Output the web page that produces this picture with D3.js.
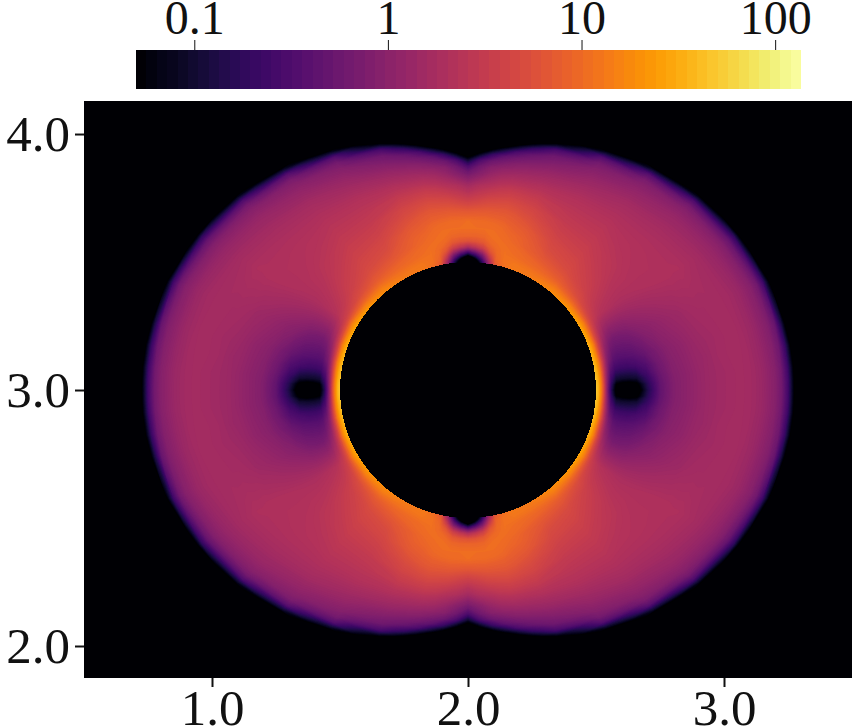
<!DOCTYPE html>
<html>
<head>
<meta charset="utf-8">
<script src="https://d3js.org/d3.v7.min.js"></script>
<style>
html, body { margin: 0; padding: 0; background: #fff; }
svg { display: block; }
text { font-family: "Liberation Serif", serif; fill: #111; }
</style>
</head>
<body>
<script>
//tick labels
var xTicks = [1, 2, 3];
var yTicks = [2, 3, 4];
var barTicks = [0.1, 1, 10, 100];

//the obstacle in the middle
var holeX = [2];
var holeY = [3];
var holeR = [0.5];

//field in one quadrant, polar round the hole (mirrored below)
var radii = [0.49, 0.50, 0.51, 0.52, 0.53, 0.54, 0.55, 0.56, 0.58, 0.60, 0.63, 0.66, 0.70, 0.75, 0.80,
	0.85, 0.875, 0.90, 0.925, 0.95, 0.975, 1.00, 1.025, 1.05, 1.075,
	1.10, 1.125, 1.15, 1.175, 1.20, 1.225, 1.25, 1.275, 1.30, 1.36];
var angles = [0, 2, 4, 8, 12, 20, 30, 40, 50, 60, 70, 75, 78, 81, 84, 87, 90];
var values = [
	[60, 50, 35, 15, 5, 1.3, .4, .15, .04, .03, .02, .03, .13, .45, .8,
		1, 1.1, 1.2, 1.3, 1.4, 1.45, 1.5, 1.55, 1.6, 1.6, 1.55, 1.45, 1.3, 1.1, .9, .62, .25, .05, .015, .01],
	[60, 50, 35, 15, 5, 1.4, .45, .18, .05, .04, .035, .045, .15, .46, .8,
		1, 1.1, 1.2, 1.3, 1.4, 1.45, 1.5, 1.55, 1.6, 1.6, 1.55, 1.45, 1.3, 1.1, .9, .62, .25, .05, .015, .01],
	[58, 48, 33, 15, 5, 1.5, .55, .24, .1, .09, .09, .1, .2, .5, .82,
		1, 1.1, 1.2, 1.3, 1.4, 1.45, 1.5, 1.55, 1.6, 1.6, 1.55, 1.45, 1.3, 1.1, .9, .62, .24, .05, .015, .01],
	[52, 44, 30, 15, 5.5, 2, .85, .42, .24, .22, .22, .25, .33, .6, .88,
		1.05, 1.15, 1.25, 1.3, 1.4, 1.5, 1.55, 1.6, 1.6, 1.6, 1.55, 1.4, 1.25, 1.05, .85, .58, .2, .04, .012, .01],
	[45, 40, 28, 15, 6, 2.6, 1.2, .7, .4, .36, .37, .4, .5, .72, .95,
		1.1, 1.2, 1.3, 1.4, 1.45, 1.5, 1.55, 1.6, 1.65, 1.6, 1.5, 1.4, 1.2, 1, .8, .5, .13, .025, .01, .01],
	[38, 34, 25, 15, 7, 3.6, 2.2, 1.4, .85, .7, .7, .75, .9, 1.05, 1.2,
		1.35, 1.4, 1.5, 1.55, 1.6, 1.6, 1.65, 1.65, 1.6, 1.55, 1.45, 1.3, 1.1, .9, .62, .25, .05, .012, .01, .01],
	[32, 28, 22, 15, 9, 5.5, 4, 3.2, 2.5, 2.2, 2, 1.9, 1.85, 1.9, 1.95,
		2, 2, 2, 1.95, 1.95, 1.85, 1.75, 1.65, 1.5, 1.35, 1.2, 1.02, .78, .48, .18, .03, .01, .01, .01, .01],
	[24, 22, 18, 14, 10, 7.5, 6, 5, 4.2, 3.6, 3.2, 2.9, 2.6, 2.4, 2.2,
		2.1, 2.05, 2, 1.9, 1.8, 1.7, 1.55, 1.4, 1.28, 1.1, .9, .66, .32, .07, .012, .01, .01, .01, .01, .01],
	[20, 18, 16, 14, 11.5, 9.5, 8, 7, 5.8, 5, 4.4, 4, 3.5, 3, 2.6,
		2.3, 2.1, 1.95, 1.8, 1.65, 1.45, 1.25, 1.1, .9, .7, .36, .08, .012, .01, .01, .01, .01, .01, .01, .01],
	[15, 14, 13, 12, 11, 10, 9, 8.5, 7, 6, 5, 4.5, 3.8, 3.1, 2.6,
		2.2, 1.95, 1.7, 1.45, 1.25, 1.05, .85, .65, .34, .07, .012, .01, .01, .01, .01, .01, .01, .01, .01, .01],
	[13, 13, 13, 12.5, 12, 11, 10.5, 10, 9.5, 8.5, 8, 7, 5.5, 4.2, 3,
		2, 1.6, 1.3, 1, .75, .55, .27, .05, .012, .01, .01, .01, .01, .01, .01, .01, .01, .01, .01, .01],
	[10, 10, 10.5, 11, 11, 11, 11, 11, 10.5, 10, 9, 8, 6.5, 4.6, 3,
		1.8, 1.4, 1.05, .75, .5, .2, .04, .012, .01, .01, .01, .01, .01, .01, .01, .01, .01, .01, .01, .01],
	[6, 6.5, 7.5, 8.5, 9, 9.5, 10, 10, 10.5, 10.5, 10, 9, 7, 4.8, 3,
		1.7, 1.25, .9, .6, .3, .065, .012, .01, .01, .01, .01, .01, .01, .01, .01, .01, .01, .01, .01, .01],
	[.9, 1.1, 1.6, 2.4, 3.5, 5, 6.5, 7.5, 9.5, 10.5, 10.5, 9.5, 7, 4.5, 2.7,
		1.5, 1.1, .72, .42, .11, .02, .01, .01, .01, .01, .01, .01, .01, .01, .01, .01, .01, .01, .01, .01],
	[.08, .12, .22, .4, .7, 1.4, 2.5, 4, 7, 9, 10.5, 10, 7, 4.2, 2.3,
		1.2, .9, .55, .2, .04, .012, .01, .01, .01, .01, .01, .01, .01, .01, .01, .01, .01, .01, .01, .01],
	[.012, .02, .04, .1, .25, .6, 1.4, 2.8, 6, 8.5, 10.5, 10, 6.8, 3.6, 2,
		.85, .6, .3, .065, .015, .01, .01, .01, .01, .01, .01, .01, .01, .01, .01, .01, .01, .01, .01, .01],
	[.01, .01, .015, .03, .1, .3, .85, 2, 5.5, 8.5, 10.5, 10.5, 6.5, 3.2, 1.6,
		.6, .3, .09, .025, .012, .01, .01, .01, .01, .01, .01, .01, .01, .01, .01, .01, .01, .01, .01, .01]
];

//Width and height
var width = 854;
var height = 728;
var plot = {left: 84, right: 852, top: 101, bottom: 678};
var bar = {left: 136, right: 801, top: 50, bottom: 89};
var barMin = 0.05;
var barMax = 136;

var svg = d3.select("body").append("svg")
	.attr("width", width)
	.attr("height", height);

var xScale = d3.scaleLinear().domain([0.5, 3.5]).range([plot.left, plot.right]);
var yScale = d3.scaleLinear().domain([1.875, 4.129]).range([plot.bottom, plot.top]);
var barScale = d3.scaleLog().domain([barMin, barMax]).range([bar.left, bar.right]);
var color = d3.scaleSequentialLog(d3.interpolateInferno).domain([barMin, barMax]);

//mirror the quadrant all the way round, with a bit of overlap so no seam shows at 0
var fullAngles = [];
var fullValues = [];
function addColumn(angle, i) {
	fullAngles.push(angle);
	fullValues.push(values[i]);
}
var last = angles.length - 1;
angles.forEach(function(a, i) { addColumn(a, i); });
angles.forEach(function(a, i) { if (i < last) addColumn(180 - angles[last - 1 - i], last - 1 - i); });
angles.forEach(function(a, i) { if (i > 0) addColumn(180 + a, i); });
angles.forEach(function(a, i) { if (i < last) addColumn(360 - angles[last - 1 - i], last - 1 - i); });
angles.forEach(function(a, i) { if (i > 0 && a <= 12) addColumn(360 + a, i); });

var nx = fullAngles.length;
var ny = radii.length;
var grid = new Float64Array(nx * ny);
for (var j = 0; j < ny; ++j) {
	for (var i = 0; i < nx; ++i) {
		grid[j * nx + i] = Math.log10(fullValues[i][j]);
	}
}

var angleOf = d3.scaleLinear().domain(d3.range(nx)).range(fullAngles).clamp(true);
var radiusOf = d3.scaleLinear().domain(d3.range(ny)).range(radii).clamp(true);

var toPlot = d3.geoTransform({
	point: function(cx, cy) {
		var a = angleOf(cx - 0.5) * Math.PI / 180;
		var r = radiusOf(cy - 0.5);
		this.stream.point(xScale(holeX[0] + r * Math.cos(a)), yScale(holeY[0] + r * Math.sin(a)));
	}
});
var path = d3.geoPath(toPlot);

var logMin = Math.log10(barMin);
var logMax = Math.log10(barMax);
var thresholds = d3.range(160).map(function(k) { return logMin + (logMax - logMin) * k / 160; });
var contours = d3.contours().size([nx, ny]).smooth(true).thresholds(thresholds)(grid);

//black background of the plot
svg.append("rect")
	.attr("x", plot.left)
	.attr("y", plot.top)
	.attr("width", plot.right - plot.left)
	.attr("height", plot.bottom - plot.top)
	.attr("fill", "#000004");

svg.append("g")
	.selectAll("path")
	.data(contours)
	.enter()
	.append("path")
	.attr("d", path)
	.attr("fill", function(d) {
		return color(Math.pow(10, d.value + (logMax - logMin) / 320));
	});

svg.append("g")
	.selectAll("circle")
	.data(holeR)
	.enter()
	.append("circle")
	.attr("cx", xScale(holeX[0]))
	.attr("cy", yScale(holeY[0]))
	.attr("r", function(d) { return xScale(d) - xScale(0); })
	.attr("fill", "#000004")
	.attr("shape-rendering", "crispEdges");

//colour bar, drawn in steps like the original
var steps = d3.range(64);
function stepLow(k) { return Math.pow(10, logMin + (logMax - logMin) * k / 64); }
svg.append("g")
	.attr("shape-rendering", "crispEdges")
	.selectAll("rect")
	.data(steps)
	.enter()
	.append("rect")
	.attr("x", function(d) { return Math.round(barScale(stepLow(d))); })
	.attr("y", bar.top)
	.attr("width", function(d) { return Math.round(barScale(stepLow(d + 1))) - Math.round(barScale(stepLow(d))); })
	.attr("height", bar.bottom - bar.top)
	.attr("fill", function(d) { return color(stepLow(d + 0.5)); });

//axes
function styleAxis(g, weight, size) {
	g.select(".domain").remove();
	g.selectAll(".tick line").attr("stroke", "#111").attr("stroke-width", weight);
	g.selectAll(".tick text")
		.style("font-family", "'Liberation Serif', serif")
		.style("font-size", size + "px")
		.attr("fill", "#111");
}

svg.append("g")
	.attr("transform", "translate(0," + plot.bottom + ")")
	.call(d3.axisBottom(xScale).tickValues(xTicks).tickFormat(d3.format(".1f")).tickSize(9).tickPadding(2))
	.call(styleAxis, 2, 51);

svg.append("g")
	.attr("transform", "translate(" + plot.left + ",0)")
	.call(d3.axisLeft(yScale).tickValues(yTicks).tickFormat(d3.format(".1f")).tickSize(9).tickPadding(5))
	.call(styleAxis, 2, 51);

svg.append("g")
	.attr("transform", "translate(0," + bar.top + ")")
	.call(d3.axisTop(barScale).tickValues(barTicks).tickFormat(function(d) { return String(d); }).tickSize(10).tickPadding(6))
	.call(styleAxis, 1, 48);
</script>
</body>
</html>
